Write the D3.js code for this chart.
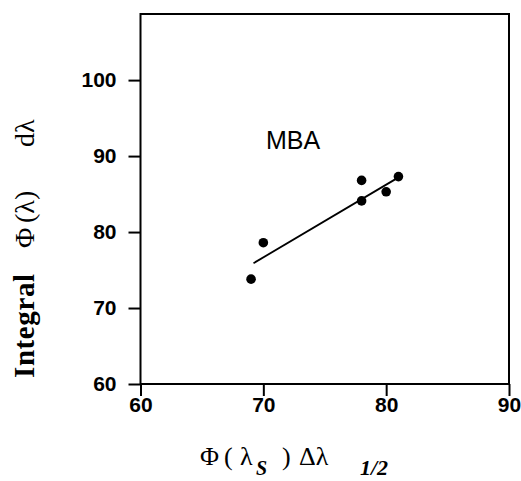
<!DOCTYPE html>
<html>
<head>
<meta charset="utf-8">
<script src="https://cdn.jsdelivr.net/npm/d3@7"></script>
<style>
  body { margin: 0; background: #fff; }
  svg { display: block; }
  .tick text { font-family: "Liberation Sans", Arial, sans-serif; font-weight: bold; font-size: 21px; fill: #000; }
</style>
</head>
<body>
<svg id="chart" width="521" height="481"></svg>
<script>
// data
const xVals = [69, 70, 78, 78, 80, 81];
const yVals = [73.8, 78.6, 86.8, 84.1, 85.3, 87.3];
const fitX = [69.2, 80.9];
const fitY = [75.9, 87.1];
const xTicks = [60, 70, 80, 90];
const yTicks = [60, 70, 80, 90, 100];
const label = "MBA";

const width = 521, height = 481;
const m = {left: 140.5, top: 14, right: 12, bottom: 97};

const svg = d3.select("#chart");

const x = d3.scaleLinear().domain([60, 90]).range([m.left, width - m.right]);
const y = d3.scaleLinear().domain([60, 108.7]).range([height - m.bottom, m.top]);

// axes, ticks pointing outward
const xAxis = svg.append("g").attr("transform", `translate(0,${height - m.bottom})`)
    .call(d3.axisBottom(x).tickValues(xTicks).tickSize(12).tickPadding(1).tickFormat(d3.format("d")));
const yAxis = svg.append("g").attr("transform", `translate(${m.left},0)`)
    .call(d3.axisLeft(y).tickValues(yTicks).tickSize(12).tickPadding(12).tickFormat(d3.format("d")));

[xAxis, yAxis].forEach(g => {
    g.select(".domain").remove();
    g.selectAll(".tick line").attr("stroke", "#000").attr("stroke-width", 2);
});

// frame
svg.append("rect")
    .attr("x", m.left).attr("y", m.top)
    .attr("width", width - m.right - m.left).attr("height", height - m.bottom - m.top)
    .attr("fill", "none").attr("stroke", "#000").attr("stroke-width", 2);

// fit line
svg.append("line")
    .attr("x1", x(fitX[0])).attr("y1", y(fitY[0]))
    .attr("x2", x(fitX[1])).attr("y2", y(fitY[1]))
    .attr("stroke", "#000").attr("stroke-width", 1.8);

// points
svg.append("g").selectAll("circle").data(xVals).enter().append("circle")
    .attr("cx", d => x(d))
    .attr("cy", (d, i) => y(yVals[i]))
    .attr("r", 4.8)
    .attr("fill", "#000");

// MBA label
svg.append("text")
    .attr("x", 293).attr("y", 149)
    .attr("text-anchor", "middle")
    .attr("font-family", "Liberation Sans, Arial, sans-serif")
    .attr("font-size", 25)
    .text(label);

// x title, pieces placed one by one
const xt = svg.append("text")
    .attr("y", 465)
    .attr("font-family", "Liberation Serif, Times New Roman, serif")
    .attr("font-size", 26);
xt.append("tspan").attr("x", 200).text("\u03A6");
xt.append("tspan").attr("x", 224).text("(");
xt.append("tspan").attr("x", 240).text("\u03BB");
xt.append("tspan").attr("x", 256).attr("y", 475).attr("font-size", 20).attr("font-style", "italic").attr("font-weight", "bold").text("S");
xt.append("tspan").attr("x", 282).attr("y", 465).text(")");
xt.append("tspan").attr("x", 299).text("\u0394\u03BB");
xt.append("tspan").attr("x", 360).attr("y", 475).attr("font-size", 22).attr("font-style", "italic").attr("font-weight", "bold").text("1/2");

// y title, rotated
const yt = svg.append("text")
    .attr("transform", "translate(34,378) rotate(-90)")
    .attr("font-family", "Liberation Serif, Times New Roman, serif")
    .attr("font-size", 28);
yt.append("tspan").attr("x", 0).attr("font-weight", "bold").attr("font-size", 29).attr("letter-spacing", 0.6).text("Integral");
yt.append("tspan").attr("x", 130).text("\u03A6");
yt.append("tspan").attr("x", 155).text("(\u03BB)");
yt.append("tspan").attr("x", 231).text("d\u03BB");
</script>
</body>
</html>
